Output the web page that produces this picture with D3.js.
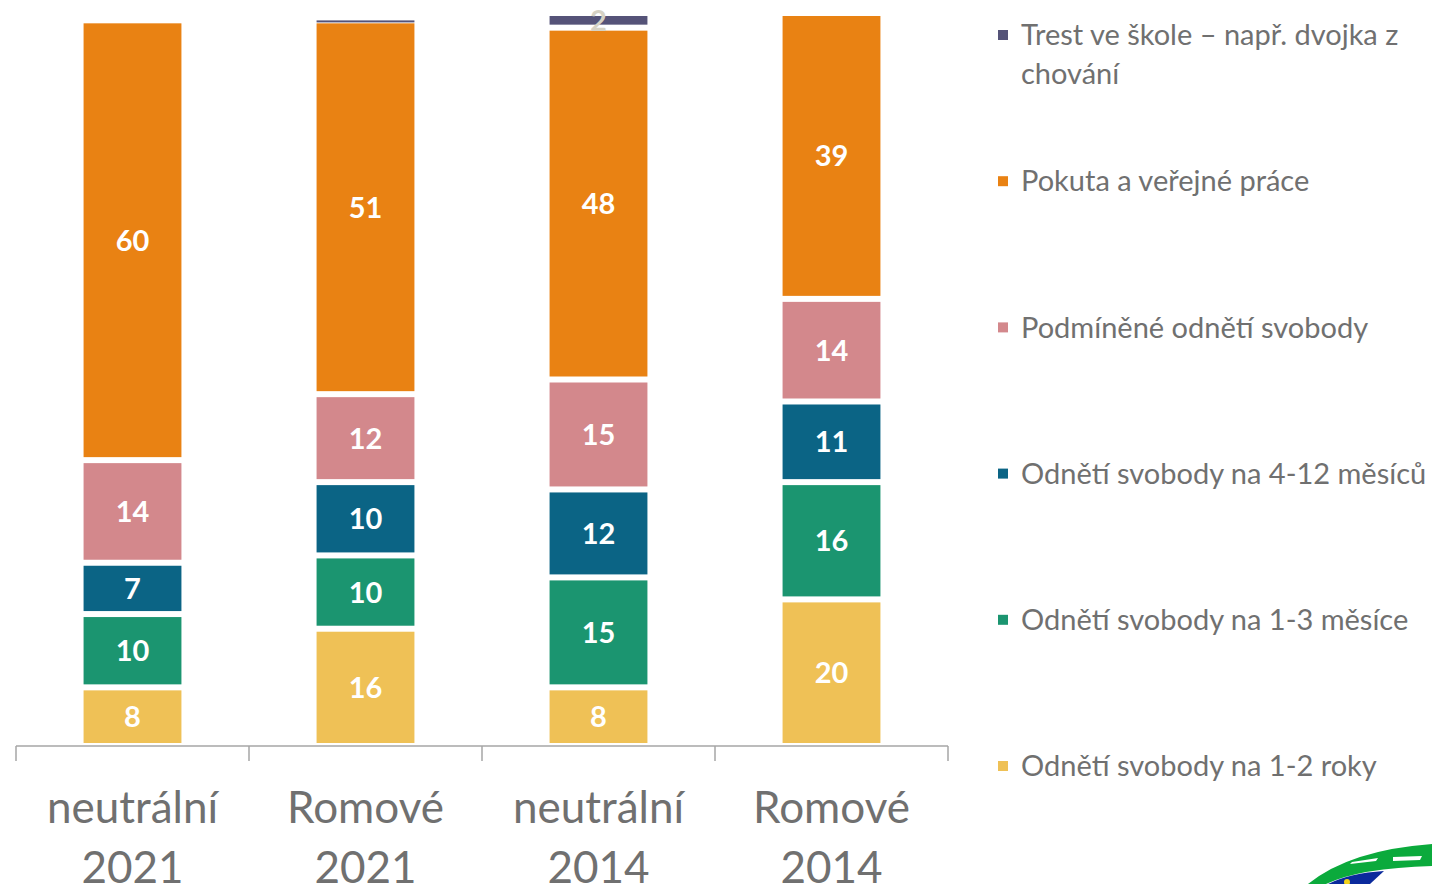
<!DOCTYPE html>
<html>
<head>
<meta charset="utf-8">
<script src="https://cdn.jsdelivr.net/npm/d3@7"></script>
<style>
  body { margin: 0; background: #fff; }
  svg { display: block; }
</style>
</head>
<body>
<div id="chart"></div>
<script>
let w = 1432;
let h = 884;

// categories (two lines each)
let categories = [["neutrální", "2021"], ["Romové", "2021"], ["neutrální", "2014"], ["Romové", "2014"]];

// series, bottom to top of the stack
let seriesNames = [
  "Odnětí svobody na 1-2 roky",
  "Odnětí svobody na 1-3 měsíce",
  "Odnětí svobody na 4-12 měsíců",
  "Podmíněné odnětí svobody",
  "Pokuta a veřejné práce",
  "Trest ve škole – např. dvojka z chování"
];
let roky12 = [8, 16, 8, 20];
let mesice13 = [10, 10, 15, 16];
let mesice412 = [7, 10, 12, 11];
let podminene = [14, 12, 15, 14];
let pokuta = [60, 51, 48, 39];
let trest = [0, 0.4, 2, 0];

let colors = ["#EFC156", "#1B9570", "#0B6485", "#D3888C", "#E98213", "#555378"];

// legend is listed top to bottom
let legendLines = [
  ["Trest ve škole – např. dvojka z", "chování"],
  ["Pokuta a veřejné práce"],
  ["Podmíněné odnětí svobody"],
  ["Odnětí svobody na 4-12 měsíců"],
  ["Odnětí svobody na 1-3 měsíce"],
  ["Odnětí svobody na 1-2 roky"]
];
let legendColors = ["#555378", "#E98213", "#D3888C", "#0B6485", "#1B9570", "#EFC156"];

let allSeries = [roky12, mesice13, mesice412, podminene, pokuta, trest];
let table = categories.map(function(c, i){
  let row = {cat: c.join(" ")};
  seriesNames.forEach(function(s, j){ row[s] = allSeries[j][i]; });
  return row;
});

let stacked = d3.stack().keys(seriesNames)(table);

let svg = d3.select("#chart").append("svg")
  .attr("width", w)
  .attr("height", h)
;

let x = d3.scaleBand()
  .domain(table.map(d => d.cat))
  .range([16, 948])
  .paddingInner(0.58)
  .paddingOuter(0.29)
;

let y = d3.scaleLinear().domain([0, 100]).range([746, 13]);

let gap = 3;

let layers = svg.selectAll(".layer").data(stacked).enter()
  .append("g")
    .attr("class", "layer")
    .attr("fill", (d, i) => colors[i])
;

layers.selectAll("rect").data(d => d).enter()
  .append("rect")
    .attr("x", d => x(d.data.cat))
    .attr("width", x.bandwidth())
    .attr("y", d => y(d[1]) + gap)
    .attr("height", function(d){
      let hh = y(d[0]) - y(d[1]) - 2 * gap;
      if (d[1] - d[0] <= 0) return 0;
      return Math.max(2, hh);
    })
;

// value labels
layers.each(function(layer, i){
  d3.select(this).selectAll("text").data(layer.filter(d => d[1] - d[0] >= 1)).enter()
    .append("text")
      .attr("x", d => x(d.data.cat) + x.bandwidth() / 2)
      .attr("y", d => (y(d[0]) + y(d[1])) / 2)
      .attr("dy", "0.36em")
      .attr("text-anchor", "middle")
      .attr("font-family", "Lato, 'Open Sans', sans-serif")
      .attr("font-weight", "bold")
      .attr("font-size", 29)
      .attr("fill", i == 5 ? "#D6D2C4" : "#ffffff")
      .text(d => Math.round(d[1] - d[0]))
  ;
});

// axis line with ticks between categories
let axisG = svg.append("g").attr("stroke", "#A6A6A6").attr("stroke-width", 1.5);
axisG.append("line")
  .attr("x1", 16).attr("x2", 948)
  .attr("y1", 746).attr("y2", 746);
let tickXs = [16].concat(table.map(d => x(d.cat) + x.bandwidth() / 2 + x.step() / 2));
axisG.selectAll(".tick").data(tickXs).enter()
  .append("line")
    .attr("x1", d => d).attr("x2", d => d)
    .attr("y1", 746).attr("y2", 761)
;

// category labels
let catText = svg.selectAll(".cat").data(table).enter()
  .append("text")
    .attr("class", "cat")
    .attr("text-anchor", "middle")
    .attr("font-family", "Lato, 'Open Sans', sans-serif")
    .attr("font-size", 44)
    .attr("fill", "#707070")
;
catText.selectAll("tspan").data((d, i) => categories[i]).enter()
  .append("tspan")
    .attr("x", function(){ let d = d3.select(this.parentNode).datum(); return x(d.cat) + x.bandwidth() / 2; })
    .attr("y", (d, i) => 823 + i * 60)
    .text(d => d)
;

// legend
let legend = svg.selectAll(".legend").data(legendLines).enter()
  .append("g")
    .attr("class", "legend")
    .attr("transform", (d, i) => "translate(998," + (35 + i * 146.2) + ")")
;
legend.append("rect")
  .attr("x", 0).attr("y", -5)
  .attr("width", 10).attr("height", 10)
  .attr("fill", (d, i) => legendColors[i])
;
let legendText = legend.append("text")
  .attr("font-family", "Lato, 'Open Sans', sans-serif")
  .attr("font-size", 29)
  .attr("fill", "#707070")
;
legendText.selectAll("tspan").data(d => d).enter()
  .append("tspan")
    .attr("x", 23)
    .attr("y", (d, i) => i * 39)
    .attr("dy", "0.35em")
    .text(d => d)
;

// corner logo (partly cut off)
let logo = svg.append("g");
logo.append("path")
  .attr("d", "M1308,884 Q1350,850 1432,844 L1432,866 Q1360,868 1326,884 Z")
  .attr("fill", "#0BAA3C");
logo.append("path")
  .attr("d", "M1352,862 L1378,858 L1376,861 L1350,864 Z M1393,857 L1422,856 L1420,860 L1393,861 Z")
  .attr("fill", "#ffffff");
logo.append("path")
  .attr("d", "M1328,884 Q1350,873 1384,871 L1370,884 Z")
  .attr("fill", "#0A2A9C");
logo.append("circle")
  .attr("cx", 1347).attr("cy", 882).attr("r", 3)
  .attr("fill", "#F2D21B");
</script>
</body>
</html>
